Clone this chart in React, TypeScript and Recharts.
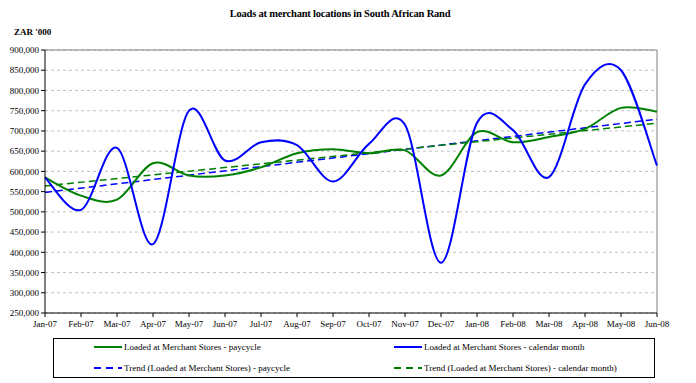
import * as React from 'react';
import { LineChart, Line, XAxis, YAxis, CartesianGrid, ReferenceLine } from 'recharts';

const months = [
  'Jan-07', 'Feb-07', 'Mar-07', 'Apr-07', 'May-07', 'Jun-07', 'Jul-07', 'Aug-07', 'Sep-07',
  'Oct-07', 'Nov-07', 'Dec-07', 'Jan-08', 'Feb-08', 'Mar-08', 'Apr-08', 'May-08', 'Jun-08',
];

// ZAR '000 (in rand)
const paycycle = [
  585000, 540000, 530000, 620000, 590000, 590000, 610000, 645000, 655000,
  645000, 652000, 590000, 697000, 672000, 685000, 705000, 757000, 748000,
];
const calendarMonth = [
  585000, 505000, 658000, 420000, 750000, 627000, 672000, 665000, 575000,
  668000, 715000, 374000, 720000, 702000, 586000, 815000, 850000, 614000,
];
// linear trends: only their end points are given, the line joins them
const trendPaycycle = [548000, 729000];
const trendCalendar = [564000, 719000];

const yTicks = [250000, 300000, 350000, 400000, 450000, 500000, 550000, 600000, 650000, 700000, 750000, 800000, 850000, 900000];

const data = months.map((m, i) => ({
  month: m,
  paycycle: paycycle[i],
  calendar: calendarMonth[i],
  trendPay: i === 0 ? trendPaycycle[0] : i === months.length - 1 ? trendPaycycle[1] : null,
  trendCal: i === 0 ? trendCalendar[0] : i === months.length - 1 ? trendCalendar[1] : null,
}));

// Excel-style smoothing (Catmull-Rom through every point)
const smooth = (context: any) => {
  let pts: number[][] = [];
  return {
    areaStart() {},
    areaEnd() {},
    lineStart() { pts = []; },
    point(x: number, y: number) { pts.push([+x, +y]); },
    lineEnd() {
      if (!pts.length) return;
      context.moveTo(pts[0][0], pts[0][1]);
      for (let i = 0; i < pts.length - 1; i++) {
        const p0 = pts[i - 1] || pts[i];
        const p1 = pts[i];
        const p2 = pts[i + 1];
        const p3 = pts[i + 2] || p2;
        context.bezierCurveTo(
          p1[0] + (p2[0] - p0[0]) / 6, p1[1] + (p2[1] - p0[1]) / 6,
          p2[0] - (p3[0] - p1[0]) / 6, p2[1] - (p3[1] - p1[1]) / 6,
          p2[0], p2[1],
        );
      }
    },
  };
};

const font = 'Liberation Serif, Times New Roman, DejaVu Serif, serif';
const GREEN = '#008000';
const BLUE = '#0000ff';

const legendItems = [
  { label: 'Loaded at Merchant Stores - paycycle', color: GREEN, dash: false },
  { label: 'Loaded at Merchant Stores - calendar month', color: BLUE, dash: false },
  { label: 'Trend (Loaded at Merchant Stores) - paycycle', color: BLUE, dash: true },
  { label: 'Trend (Loaded at Merchant Stores) - calendar month)', color: GREEN, dash: true },
];

const fmt = (v: number) => v.toLocaleString('en-US');

export default function App() {
  return (
    <div style={{ position: 'absolute', left: 0, top: 0, width: 696, height: 383, background: '#fff', fontFamily: font, overflow: 'hidden' }}>
      <div style={{ position: 'absolute', top: 8, left: 225, width: 230, textAlign: 'center', fontSize: 10.5, fontWeight: 'bold', whiteSpace: 'nowrap', letterSpacing: -0.2 }}>
        Loads at merchant locations in South African Rand
      </div>
      <div style={{ position: 'absolute', top: 27, left: 14, fontSize: 9, fontWeight: 'bold' }}>ZAR '000</div>
      <LineChart width={696} height={383} data={data} margin={{ top: 50, right: 39, left: 0, bottom: 50 }}>
        <CartesianGrid vertical={false} stroke="#c0c0c0" strokeDasharray="3 3" />
        <XAxis
          dataKey="month"
          interval={0}
          height={20}
          tickSize={4}
          tickMargin={4}
          axisLine={{ stroke: '#000' }}
          tickLine={{ stroke: '#000' }}
          tick={{ fontSize: 9, fill: '#000', fontFamily: font }}
        />
        <YAxis
          domain={[250000, 900000]}
          ticks={yTicks}
          width={45}
          tickSize={4}
          interval={0}
          tickFormatter={fmt}
          axisLine={{ stroke: '#000' }}
          tickLine={{ stroke: '#000' }}
          tick={{ fontSize: 9, fill: '#000', fontFamily: font }}
        />
        <ReferenceLine y={900000} stroke="#808080" />
        <ReferenceLine x="Jun-08" stroke="#808080" />
        <Line dataKey="trendPay" type="linear" connectNulls stroke={BLUE} strokeWidth={1.5} strokeDasharray="7 4" dot={false} isAnimationActive={false} />
        <Line dataKey="trendCal" type="linear" connectNulls stroke={GREEN} strokeWidth={1.5} strokeDasharray="7 4" dot={false} isAnimationActive={false} />
        <Line dataKey="paycycle" type={smooth as any} stroke={GREEN} strokeWidth={2} dot={false} isAnimationActive={false} />
        <Line dataKey="calendar" type={smooth as any} stroke={BLUE} strokeWidth={2} dot={false} isAnimationActive={false} />
      </LineChart>
      <div style={{ position: 'absolute', left: 53, top: 338, width: 602, height: 40, border: '1px solid #000', boxSizing: 'border-box', fontSize: 9 }}>
        {legendItems.map((it, i) => (
          <div key={i} style={{ position: 'absolute', left: i % 2 === 0 ? 40 : 340, top: i < 2 ? 3 : 24, display: 'flex', alignItems: 'center', whiteSpace: 'nowrap' }}>
            <svg width={29} height={6} style={{ marginRight: 1 }}>
              <line x1={0} y1={3} x2={28} y2={3} stroke={it.color} strokeWidth={2} strokeDasharray={it.dash ? '7 5' : undefined} />
            </svg>
            <span>{it.label}</span>
          </div>
        ))}
      </div>
    </div>
  );
}
